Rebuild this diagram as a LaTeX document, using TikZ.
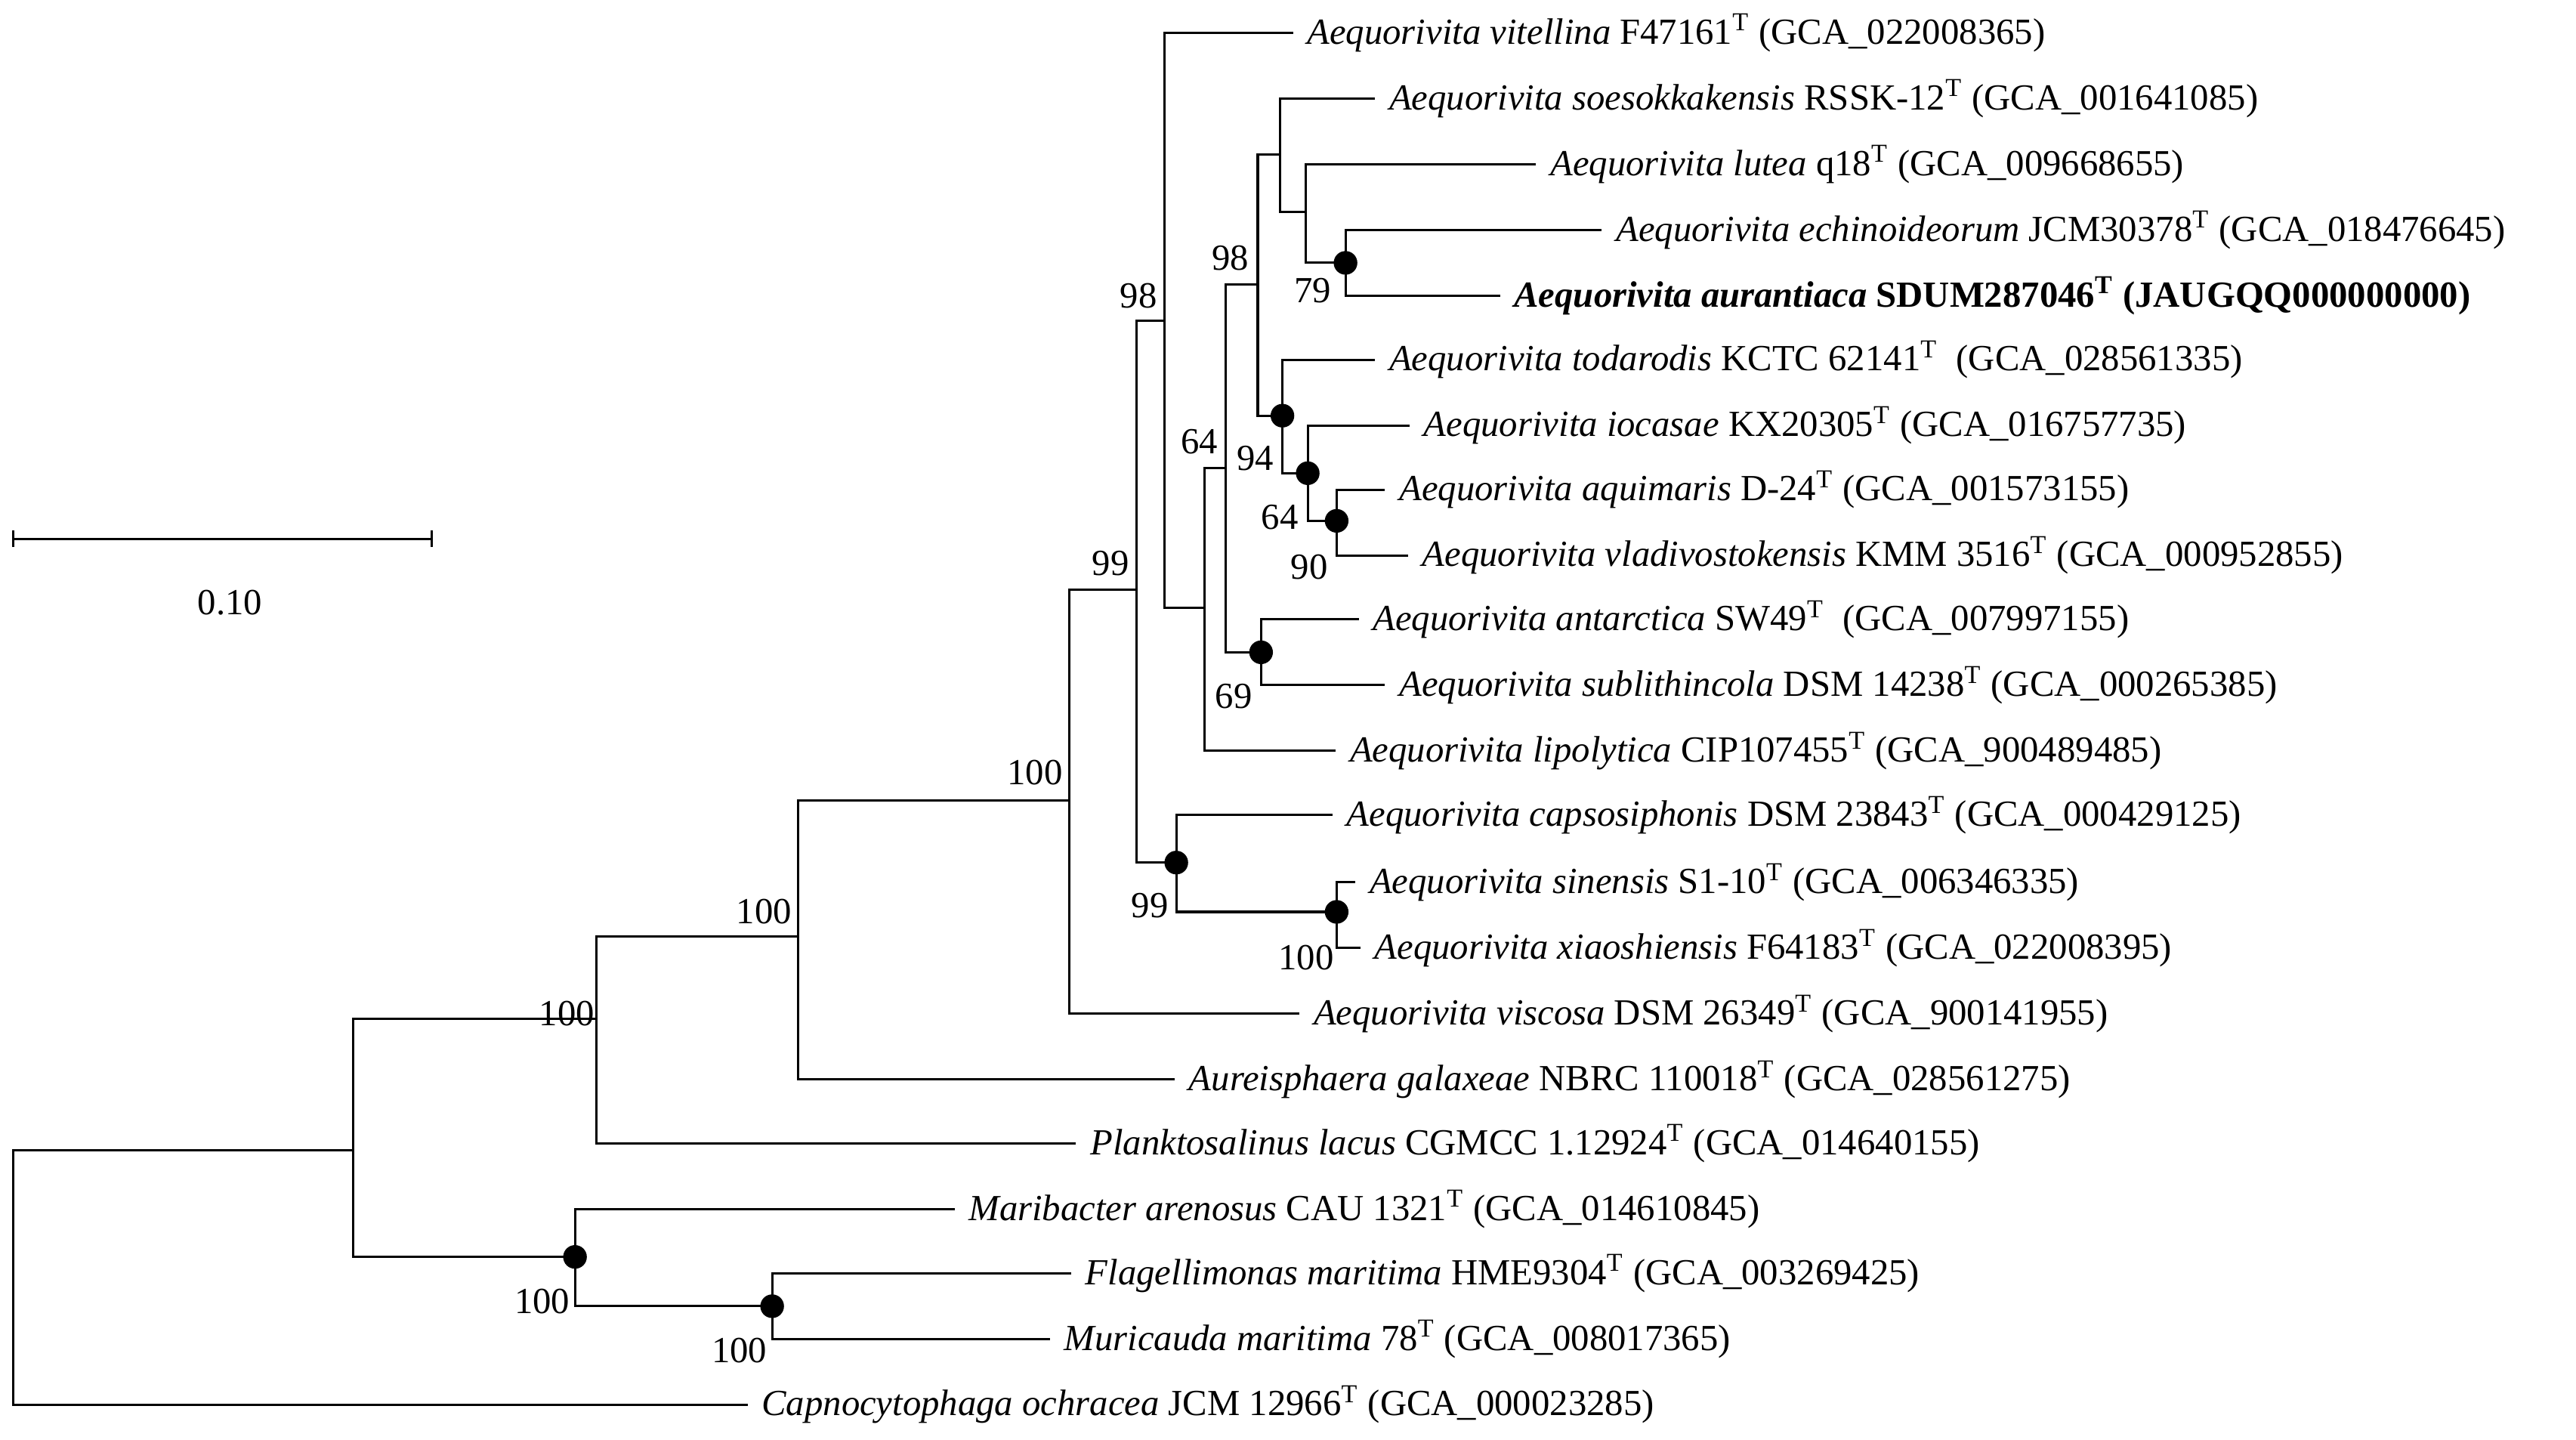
\documentclass[tikz,border=0pt]{standalone}
\usepackage{fontspec}
\setmainfont{Liberation Serif}
\begin{document}
\begin{tikzpicture}[x=0.5pt,y=-0.5pt,line width=0.7pt,
  leaf/.style={anchor=west,inner xsep=4pt,inner ysep=1pt,font=\fontsize{11.2}{13}\selectfont},
  bs/.style={font=\fontsize{11.2}{13}\selectfont,inner sep=0pt},
  dot/.style={fill=black,draw=none}]
\useasboundingbox (0,0) rectangle (1568,876);
% leaves
\node[leaf] (vit) at (787,20) {\textit{Aequorivita vitellina} F47161\textsuperscript{T} (GCA\_022008365)};
\node[leaf] (soe) at (837,60) {\textit{Aequorivita soesokkakensis} RSSK-12\textsuperscript{T} (GCA\_001641085)};
\node[leaf] (lut) at (935,100) {\textit{Aequorivita lutea} q18\textsuperscript{T} (GCA\_009668655)};
\node[leaf] (ech) at (975,140) {\textit{Aequorivita echinoideorum} JCM30378\textsuperscript{T} (GCA\_018476645)};
\node[leaf] (aur) at (913,180) {\textbf{\textit{Aequorivita aurantiaca} SDUM287046\textsuperscript{T} (JAUGQQ000000000)}};
\node[leaf] (tod) at (837,219) {\textit{Aequorivita todarodis} KCTC 62141\textsuperscript{T}\ \ (GCA\_028561335)};
\node[leaf] (ioc) at (858,259) {\textit{Aequorivita iocasae} KX20305\textsuperscript{T} (GCA\_016757735)};
\node[leaf] (aqu) at (843,298) {\textit{Aequorivita aquimaris} D-24\textsuperscript{T} (GCA\_001573155)};
\node[leaf] (vla) at (857,338) {\textit{Aequorivita vladivostokensis} KMM 3516\textsuperscript{T} (GCA\_000952855)};
\node[leaf] (ant) at (827,377) {\textit{Aequorivita antarctica} SW49\textsuperscript{T}\ \ (GCA\_007997155)};
\node[leaf] (sub) at (843,417) {\textit{Aequorivita sublithincola} DSM 14238\textsuperscript{T} (GCA\_000265385)};
\node[leaf] (lip) at (813,457) {\textit{Aequorivita lipolytica} CIP107455\textsuperscript{T} (GCA\_900489485)};
\node[leaf] (cap) at (811,496) {\textit{Aequorivita capsosiphonis} DSM 23843\textsuperscript{T} (GCA\_000429125)};
\node[leaf] (sin) at (825,537) {\textit{Aequorivita sinensis} S1-10\textsuperscript{T} (GCA\_006346335)};
\node[leaf] (xia) at (828,577) {\textit{Aequorivita xiaoshiensis} F64183\textsuperscript{T} (GCA\_022008395)};
\node[leaf] (vis) at (791,617) {\textit{Aequorivita viscosa} DSM 26349\textsuperscript{T} (GCA\_900141955)};
\node[leaf] (aue) at (715,657) {\textit{Aureisphaera galaxeae} NBRC 110018\textsuperscript{T} (GCA\_028561275)};
\node[leaf] (pla) at (655,696) {\textit{Planktosalinus lacus} CGMCC 1.12924\textsuperscript{T} (GCA\_014640155)};
\node[leaf] (mar) at (581,736) {\textit{Maribacter arenosus} CAU 1321\textsuperscript{T} (GCA\_014610845)};
\node[leaf] (fla) at (652,775) {\textit{Flagellimonas maritima} HME9304\textsuperscript{T} (GCA\_003269425)};
\node[leaf] (mur) at (639,815) {\textit{Muricauda maritima} 78\textsuperscript{T} (GCA\_008017365)};
\node[leaf] (cno) at (455,855) {\textit{Capnocytophaga ochracea} JCM 12966\textsuperscript{T} (GCA\_000023285)};
% internal nodes
\coordinate (R) at (8,777);
\coordinate (n1) at (215,700);
\coordinate (n2) at (363,620);
\coordinate (n3) at (350,765);
\coordinate (n4) at (470,795);
\coordinate (n5) at (486,570);
\coordinate (n6) at (651,487);
\coordinate (B) at (692,359);
\coordinate (C) at (709,195);
\coordinate (N) at (716,525);
\coordinate (D) at (733,370);
\coordinate (E) at (746,285);
\coordinate (G) at (765.6,173);
\coordinate (F) at (767.6,397);
\coordinate (H) at (779,94);
\coordinate (K) at (780.6,253);
\coordinate (I) at (794.7,129);
\coordinate (J) at (819,160);
\coordinate (L) at (796,288);
\coordinate (M) at (813.6,317);
\coordinate (O) at (813.6,555);
% edges
\draw (R) |- (n1); \draw (R) |- (cno.west);
\draw (n1) |- (n2); \draw (n1) |- (n3);
\draw (n3) |- (mar.west); \draw (n3) |- (n4);
\draw (n4) |- (fla.west); \draw (n4) |- (mur.west);
\draw (n2) |- (n5); \draw (n2) |- (pla.west);
\draw (n5) |- (n6); \draw (n5) |- (aue.west);
\draw (n6) |- (B); \draw (n6) |- (vis.west);
\draw (B) |- (C); \draw (B) |- (N);
\draw (C) |- (vit.west); \draw (C) |- (D);
\draw (D) |- (E); \draw (D) |- (lip.west);
\draw (E) |- (G); \draw (E) |- (F);
\draw (G) |- (H); \draw (G) |- (K);
\draw (H) |- (soe.west); \draw (H) |- (I);
\draw (I) |- (lut.west); \draw (I) |- (J);
\draw (J) |- (ech.west); \draw (J) |- (aur.west);
\draw (K) |- (tod.west); \draw (K) |- (L);
\draw (L) |- (ioc.west); \draw (L) |- (M);
\draw (M) |- (aqu.west); \draw (M) |- (vla.west);
\draw (F) |- (ant.west); \draw (F) |- (sub.west);
\draw (N) |- (cap.west); \draw (N) |- (O);
\draw (O) |- (sin.west); \draw (O) |- (xia.west);
% dots
\foreach \p in {J,K,L,M,F,N,O,n3,n4} \fill[dot] (\p) circle (3.6pt);
% bootstrap
\node[bs] at (345,617) {100};
\node[bs] at (465,555) {100};
\node[bs] at (630,470) {100};
\node[bs] at (676,343) {99};
\node[bs] at (693,180) {98};
\node[bs] at (730,269) {64};
\node[bs] at (749,157) {98};
\node[bs] at (799,177) {79};
\node[bs] at (764,279) {94};
\node[bs] at (779,315) {64};
\node[bs] at (797,345) {90};
\node[bs] at (751,424) {69};
\node[bs] at (700,551) {99};
\node[bs] at (795,583) {100};
\node[bs] at (330,792) {100};
\node[bs] at (450,822) {100};
% scale bar
\coordinate (s1) at (8,328); \coordinate (s2) at (263,328);
\draw (s1) -- (s2);
\draw ([yshift=-2.5pt]s1) -- ([yshift=2.5pt]s1);
\draw ([yshift=-2.5pt]s2) -- ([yshift=2.5pt]s2);
\node[bs] (sl) at (140,367) {0.10};
\end{tikzpicture}
\end{document}
